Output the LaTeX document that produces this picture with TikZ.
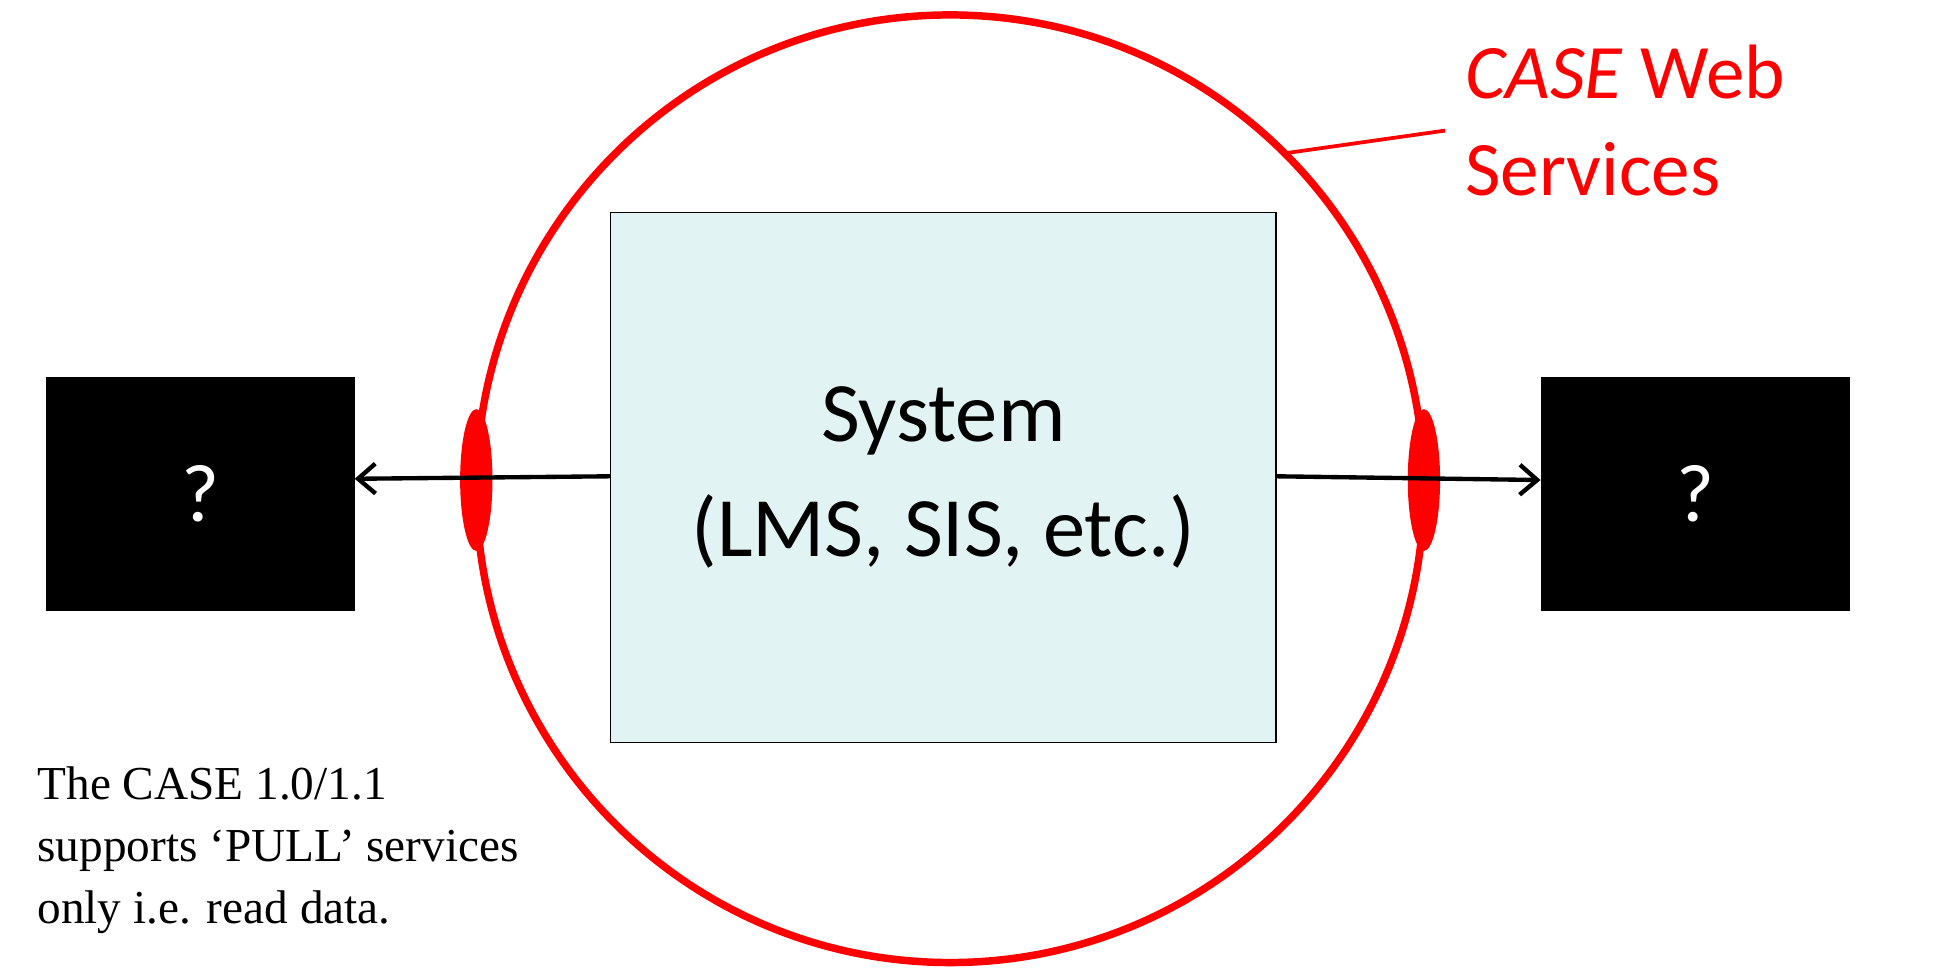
\documentclass[tikz,border=0pt]{standalone}
\usepackage{fontspec}
\usetikzlibrary{arrows.meta}
\setmainfont{Carlito}
\newfontfamily\seriffont{Liberation Serif}
\begin{document}
\begin{tikzpicture}[x=1pt,y=-1pt,
  qbox/.style={fill=black,draw=black,minimum width=248pt,minimum height=187pt,inner sep=0pt,text=white,font=\fontsize{66}{70}\selectfont},
  conn/.style={draw=black,line width=3.5pt,-{Straight Barb[length=14pt,width=24pt,line width=3.5pt]}}]
\useasboundingbox (0,0) rectangle (1560,781);
\node[qbox] (L) at (161,397) {?};
\node[qbox] (R) at (1363,397) {?};
\draw[red,line width=6pt] (764,393) circle (381);
\node[draw=black,line width=1pt,fill={rgb,255:red,226;green,243;blue,243},minimum width=535pt,minimum height=426pt,inner sep=0pt,align=center,font=\fontsize{68}{92}\selectfont] (S) at (758.5,384) {System\\(LMS, SIS, etc.)};
\fill[red] (383,386) ellipse (13 and 57);
\fill[red] (1145,386) ellipse (13 and 57);
\draw[conn] (S.west |- 0,383) -- (L.east |- 0,385);
\draw[conn] (S.east |- 0,383) -- (R.west |- 0,386);
\coordinate (c1) at (1035,123);
\node[anchor=north west,text=red,align=left,font=\fontsize{62}{78}\selectfont,inner sep=0pt] (T) at (1178,36) {\textit{CASE} Web\\Services};
\draw[red,line width=3pt] (c1) -- (1162,105);
\node[anchor=north west,align=left,inner sep=0pt,font=\seriffont\fontsize{38}{50}\selectfont] (N) at (30,616) {The CASE 1.0/1.1\\supports ‘PULL’ services\\only i.e. read data.};
\end{tikzpicture}
\end{document}
